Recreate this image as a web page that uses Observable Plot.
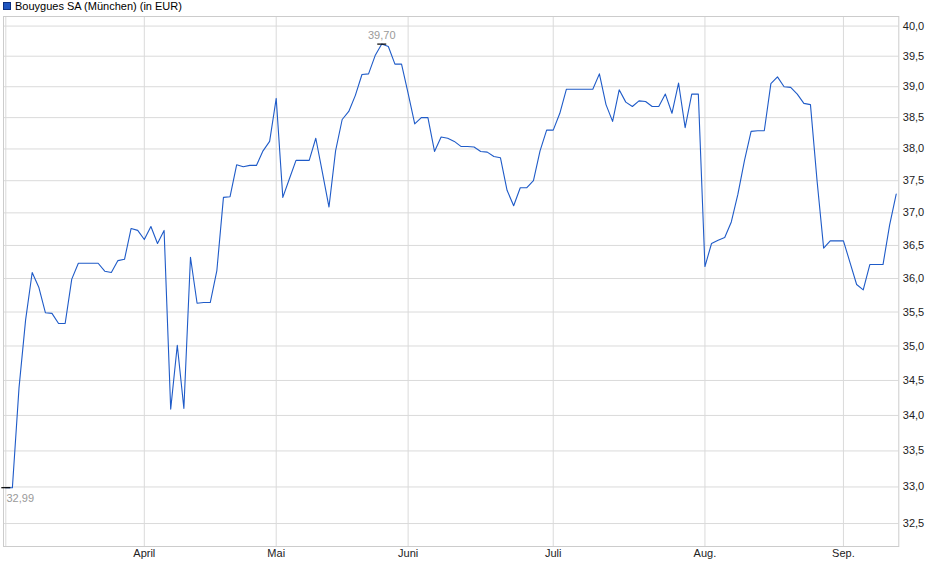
<!DOCTYPE html>
<html><head><meta charset="utf-8">
<script src="https://cdn.jsdelivr.net/npm/d3@7"></script>
<script src="https://cdn.jsdelivr.net/npm/@observablehq/plot@0.6"></script>
<style>
body{margin:0;background:#fff;font-family:"Liberation Sans",Arial,sans-serif;}
#wrap{position:relative;width:940px;height:579px;}
#title{position:absolute;left:3px;top:0px;font-size:11px;line-height:12px;color:#000;display:flex;align-items:center;gap:4px;z-index:2;}
#title .sw{display:inline-block;width:6px;height:6px;background:#1f55c0;border:1px solid #0c2f80;}
</style></head><body>
<div id="wrap"><div id="title"><span class="sw"></span><span>Bouygues SA (München) (in EUR)</span></div><div id="chart"></div></div>
<script>
const title = "Bouygues SA (München) (in EUR)";
// closing prices, one per trading point
const values = [
32.99, 32.99, 34.39, 35.38, 36.09, 35.87, 35.49, 35.48, 35.33, 35.33,
35.99, 36.23, 36.23, 36.23, 36.23, 36.11, 36.09, 36.27, 36.29, 36.76,
36.73, 36.59, 36.79, 36.53, 36.73, 34.09, 35.01, 34.10, 36.32, 35.63,
35.64, 35.64, 36.12, 37.24, 37.25, 37.75, 37.72, 37.74, 37.74, 37.97,
38.12, 38.81, 37.24, 37.53, 37.82, 37.82, 37.82, 38.17, 37.63, 37.09,
37.97, 38.47, 38.60, 38.86, 39.20, 39.21, 39.51, 39.70, 39.66, 39.37,
39.37, 38.89, 38.40, 38.50, 38.50, 37.96, 38.19, 38.17, 38.12, 38.04,
38.04, 38.03, 37.96, 37.95, 37.88, 37.86, 37.35, 37.11, 37.39, 37.39,
37.50, 37.97, 38.30, 38.30, 38.57, 38.96, 38.96, 38.96, 38.96, 38.96,
39.21, 38.71, 38.44, 38.95, 38.75, 38.68, 38.77, 38.76, 38.68, 38.68,
38.88, 38.57, 39.06, 38.34, 38.88, 38.88, 36.18, 36.53, 36.58, 36.62,
36.86, 37.29, 37.82, 38.28, 38.29, 38.29, 39.05, 39.16, 39.00, 38.99,
38.88, 38.73, 38.71, 37.50, 36.46, 36.57, 36.57, 36.57, 36.24, 35.91,
35.83, 36.21, 36.21, 36.21, 36.81, 37.29
];
// first trading point of each month (index) and its label
const monthStarts = [0, 21, 41, 61, 83, 106, 127];
const monthLabels = ["", "April", "Mai", "Juni", "Juli", "Aug.", "Sep."];
const yTicks = [32.5, 33, 33.5, 34, 34.5, 35, 35.5, 36, 36.5, 37, 37.5, 38, 38.5, 39, 39.5, 40];

const data = values.map((v, i) => ({i, v}));
const comma = (v, n) => v.toFixed(n).replace(".", ",");
const minD = data[d3.minIndex(values)];
const maxD = data[d3.maxIndex(values)];
const labelOf = new Map(monthStarts.map((d, k) => [d, monthLabels[k]]));
const dash = {draw(ctx, size) { const r = Math.sqrt(size / Math.PI); ctx.moveTo(-r, 0); ctx.lineTo(r, 0); }};

const chart = Plot.plot({
  width: 940, height: 579,
  marginLeft: 3, marginRight: 41.7, marginTop: 16, marginBottom: 33,
  style: {fontFamily: '"Liberation Sans", Arial, sans-serif', fontSize: "11px", color: "#000", background: "#fff"},
  x: {domain: [0, values.length - 1], insetLeft: 2.3, insetRight: 2.6, axis: null, label: null},
  y: {type: "log", domain: [32.19, 40.16], axis: null, label: null},
  marks: [
    Plot.gridY(yTicks, {stroke: "#dadada", strokeOpacity: 1}),
    Plot.gridX(monthStarts, {stroke: "#dadada", strokeOpacity: 1}),
    Plot.frame({stroke: "#cccccc"}),
    Plot.axisY(yTicks, {anchor: "right", label: null, tickSize: 0, tickPadding: 4, tickFormat: d => comma(d, 1), fill: "#222"}),
    Plot.axisX(monthStarts.slice(1), {anchor: "bottom", label: null, tickSize: 0, tickPadding: 3, tickFormat: d => labelOf.get(d), fill: "#222"}),
    Plot.line(data, {x: "i", y: "v", stroke: "#1f5bc8", strokeWidth: 1.1}),
    Plot.dot([minD, maxD], {x: "i", y: "v", symbol: dash, r: 4.5, stroke: "#000", strokeWidth: 1.2, fill: "none"}),
    Plot.text([minD], {x: "i", y: "v", text: d => comma(d.v, 2), textAnchor: "start", dx: 0.7, dy: 10.5, fill: "#9a9a9a"}),
    Plot.text([maxD], {x: "i", y: "v", text: d => comma(d.v, 2), textAnchor: "middle", dy: -9, fill: "#9a9a9a"})
  ]
});
document.getElementById("chart").appendChild(chart);
</script>
</body></html>
